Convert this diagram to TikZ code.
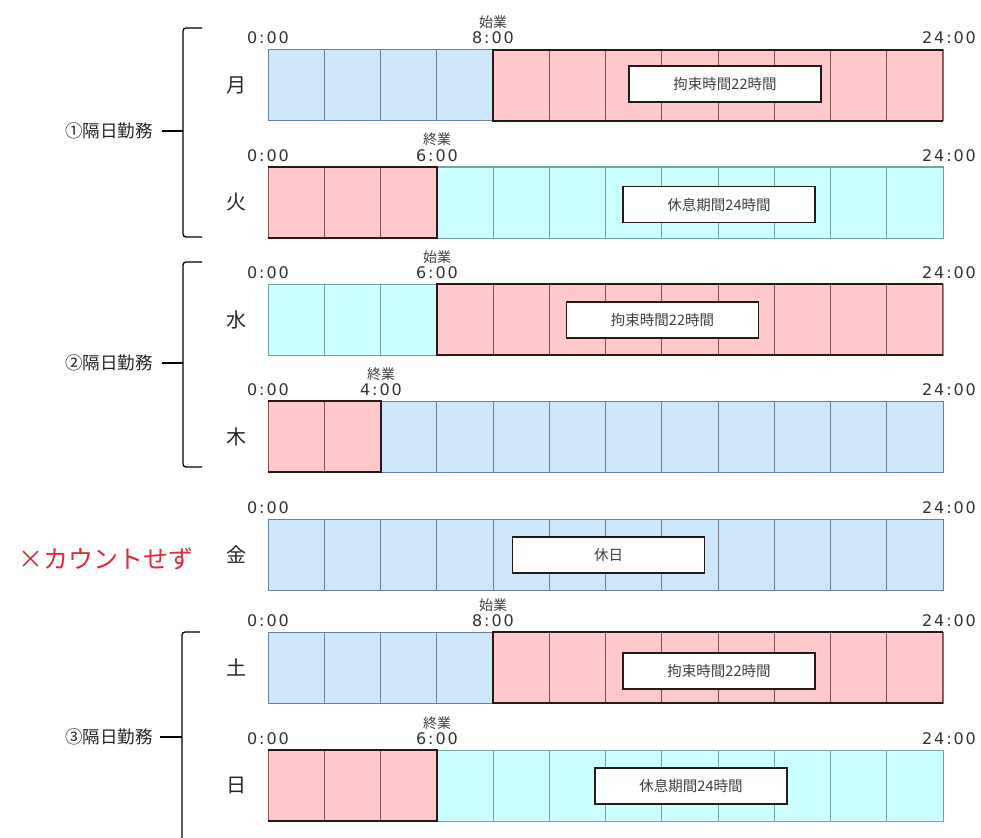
\documentclass[tikz,border=0pt]{standalone}
\usepackage{fontspec}
\setmainfont{Noto Sans CJK JP}
\newfontfamily\timefont[LetterSpace=12]{DejaVu Sans}
\definecolor{bluefill}{RGB}{205,230,249}
\definecolor{cyanfill}{RGB}{204,255,255}
\definecolor{pinkfill}{RGB}{255,200,204}
\definecolor{bluediv}{RGB}{110,128,145}
\definecolor{cyandiv}{RGB}{120,160,160}
\definecolor{reddiv}{RGB}{130,80,80}
\definecolor{thickc}{RGB}{40,25,25}
\definecolor{redtxt}{RGB}{222,40,60}
\tikzset{
  timelbl/.style={font=\timefont\fontsize{16}{16}\selectfont, inner sep=0pt, anchor=base, text=black!80},
  worklbl/.style={font=\fontsize{14}{14}\selectfont, inner sep=0pt, anchor=base, text=black!75},
  daylbl/.style={font=\fontsize{20}{20}\selectfont, inner sep=0pt, text=black!85},
  grouplbl/.style={font=\fontsize{17.5}{17.5}\selectfont, inner sep=0pt, text=black!85},
  boxlbl/.style={draw=thickc, line width=1.4pt, fill=white, minimum width=192pt, minimum height=36pt, inner sep=0pt, font=\fontsize{14.5}{14.5}\selectfont, text=black!75},
  thickb/.style={draw=thickc, line width=2pt},
  brk/.style={draw=black, line width=1.3pt},
}
\newcommand\dayrow[7]{%
  \fill[#5] (268,#2) rectangle (943,#2+71);
  \ifnum#4>#3 \fill[pinkfill] ({268+28.125*#3},#2) rectangle ({268+28.125*#4},#2+71);\fi
  \foreach \i in {1,...,11} {\draw[#6, line width=1pt] ({268+56.25*\i},#2) -- ({268+56.25*\i},#2+71);}
  \draw[#6, line width=1pt] (268,#2) rectangle (943,#2+71);
  \ifnum#4>#3
    \begin{scope}
      \clip ({268+28.125*#3},#2) rectangle ({268+28.125*#4},#2+71);
      \foreach \i in {1,...,11} {\draw[reddiv, line width=1pt] ({268+56.25*\i},#2) -- ({268+56.25*\i},#2+71);}
      \draw[reddiv, line width=2pt] (268,#2) rectangle (943,#2+71);
    \end{scope}
    \ifnum#3=0
      \draw[thickb] (268,#2) -- ({268+28.125*#4},#2) -- ({268+28.125*#4},#2+71) -- (268,#2+71);
    \else
      \draw[thickb] (943,#2) -- ({268+28.125*#3},#2) -- ({268+28.125*#3},#2+71) -- (943,#2+71);
    \fi
  \fi
  \node[daylbl] (#1-day) at (236,#2+35.5) {#7};
  \node[timelbl] (#1-t0) at (268,#2-6) {0:00};
  \node[timelbl] (#1-t24) at (949,#2-6) {24:00};
}
\begin{document}
\begin{tikzpicture}[x=1pt,y=-1pt]
\useasboundingbox (0,0) rectangle (981,837);
\fill[white] (0,0) rectangle (981,837);

% rows
\dayrow{mon}{50}{8}{24}{bluefill}{bluediv}{月}
\dayrow{tue}{167}{0}{6}{cyanfill}{cyandiv}{火}
\dayrow{wed}{284}{6}{24}{cyanfill}{cyandiv}{水}
\dayrow{thu}{401}{0}{4}{bluefill}{bluediv}{木}
\dayrow{fri}{519}{0}{0}{bluefill}{bluediv}{金}
\dayrow{sat}{632}{8}{24}{bluefill}{bluediv}{土}
\dayrow{sun}{750}{0}{6}{cyanfill}{cyandiv}{日}

% transition labels
\node[timelbl] (mon-t) at (493,44) {8:00};
\node[worklbl] (mon-w) at (493,28) {始業};
\node[timelbl] (tue-t) at (437,161) {6:00};
\node[worklbl] (tue-w) at (437,145) {終業};
\node[timelbl] (wed-t) at (437,278) {6:00};
\node[worklbl] (wed-w) at (437,262) {始業};
\node[timelbl] (thu-t) at (381,395) {4:00};
\node[worklbl] (thu-w) at (381,379) {終業};
\node[timelbl] (sat-t) at (493,626) {8:00};
\node[worklbl] (sat-w) at (493,610) {始業};
\node[timelbl] (sun-t) at (437,744) {6:00};
\node[worklbl] (sun-w) at (437,728) {終業};

% boxes
\node[boxlbl] (mon-box) at (725,84) {拘束時間22時間};
\node[boxlbl] (tue-box) at (719,204.5) {休息期間24時間};
\node[boxlbl] (wed-box) at (662.5,320) {拘束時間22時間};
\node[boxlbl] (fri-box) at (608.5,555) {休日};
\node[boxlbl] (sat-box) at (719,671) {拘束時間22時間};
\node[boxlbl] (sun-box) at (691,786) {休息期間24時間};

% brackets
\draw[brk, rounded corners=3pt] (202,28) -- (183,28) -- (183,237) -- (202,237);
\draw[brk] (162,131) -- (183,131);
\draw[brk, rounded corners=3pt] (202,262) -- (183,262) -- (183,467) -- (202,467);
\draw[brk] (162,363) -- (183,363);
\draw[brk, rounded corners=3pt] (200,632) -- (182,632) -- (182,840);
\draw[brk] (160,737) -- (182,737);

% group labels
\node[grouplbl] (g1) at (109,131) {①隔日勤務};
\node[grouplbl] (g2) at (109,363) {②隔日勤務};
\node[grouplbl] (g3) at (109,737) {③隔日勤務};
\node[grouplbl, text=redtxt, font=\fontsize{25}{25}\selectfont] (nc) at (106,559) {×カウントせず};
\end{tikzpicture}
\end{document}
